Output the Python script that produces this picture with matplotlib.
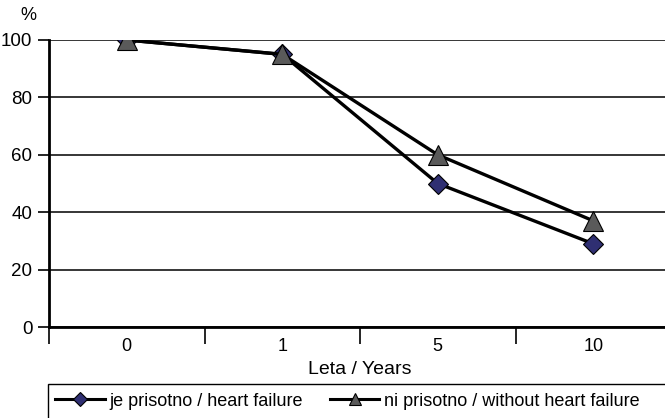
import matplotlib.pyplot as plt
from matplotlib.patches import Rectangle
from matplotlib.lines import Line2D

plt.rcParams['font.family'] = ['Liberation Sans', 'DejaVu Sans']

years = ['0', '1', '5', '10']
heart_failure = [100, 95, 50, 29]
without_hf = [100, 95, 60, 37]
y_ticks = [0, 20, 40, 60, 80, 100]

W, H = 665, 418
fig = plt.figure(figsize=(W / 100, H / 100), dpi=100)
ax = fig.add_axes([49 / W, 1 - 327 / H, 622 / W, 287 / H])

x = list(range(len(years)))
ax.plot(x, heart_failure, color='black', lw=2.4, marker='D', ms=10,
        mfc='#2f2f72', mec='black', mew=0.8, zorder=3)
ax.plot(x, without_hf, color='black', lw=2.4, marker='^', ms=14,
        mfc='#5a5a5a', mec='black', mew=0.8, zorder=4)

ax.set_xlim(-0.5, len(years) - 0.5)
ax.set_ylim(0, 100)
ax.set_yticks(y_ticks)
ax.yaxis.grid(True, color='black', lw=1.1)
ax.set_axisbelow(True)

# category labels sit between the tick marks
ax.set_xticks([i - 0.5 for i in range(len(years))])
ax.set_xticklabels([])
ax.set_xticks(x, minor=True)
ax.set_xticklabels(years, minor=True)
ax.tick_params(axis='x', which='major', length=12, width=1.2, color='black')
ax.tick_params(axis='x', which='minor', length=0, pad=8, labelsize=13)
ax.tick_params(axis='y', length=8, width=1.2, labelsize=13.5, pad=4)

for s in ['top', 'right']:
    ax.spines[s].set_visible(False)
ax.spines['left'].set_linewidth(2)
ax.spines['bottom'].set_linewidth(2)

ax.set_xlabel('Leta / Years', fontsize=14, labelpad=4)
fig.text(28 / W, 1 - 15 / H, '%', fontsize=13, ha='center', va='center')

# legend box runs off the right and bottom edges
fig.patches.append(Rectangle((48 / W, -0.05), 0.98, 1.05 - 384 / H,
                             transform=fig.transFigure, fill=False,
                             ec='black', lw=1.0))
handles = [
    Line2D([], [], color='black', lw=2.2, marker='D', ms=7,
           mfc='#2f2f72', mec='black', mew=0.8),
    Line2D([], [], color='black', lw=2.2, marker='^', ms=9,
           mfc='#5a5a5a', mec='black', mew=0.8),
]
fig.legend(handles, ['je prisotno / heart failure',
                     'ni prisotno / without heart failure'],
           loc='center left', bbox_to_anchor=(55 / W, 1 - 401 / H),
           ncol=2, frameon=False, fontsize=13, handlelength=2.75,
           handletextpad=0.25, columnspacing=1.5, borderpad=0, borderaxespad=0)

fig.savefig('out.png', dpi=100)
